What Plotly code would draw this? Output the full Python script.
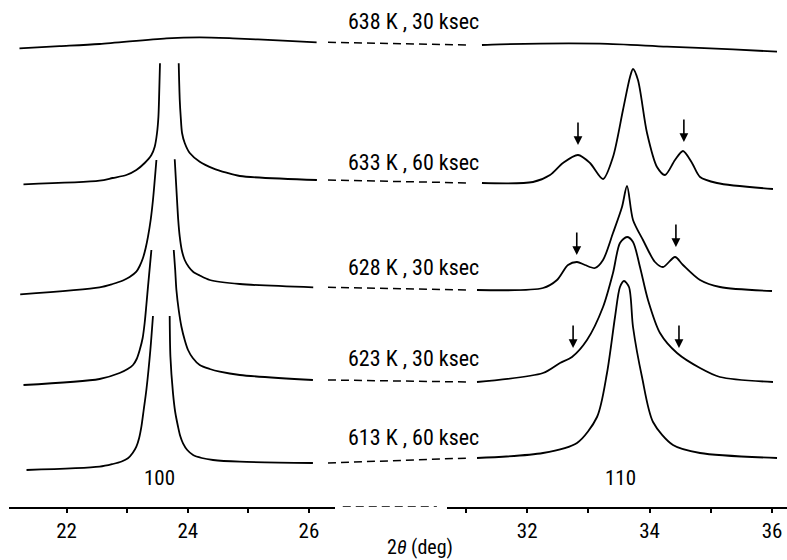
import plotly.graph_objects as go

# ---------------- data (2theta in deg, stacked intensity, arb. units) ----------------
# each pattern: left window (100 reflection, peak tips cut off) and right window (110 reflection)
t638_left = [21.223, 21.884, 22.545, 23.648, 24.198, 24.744, 25.570, 26.127]
i638_left = [458.7, 460.8, 463.0, 468.7, 469.7, 468.7, 466.3, 464.7]
t638_right = [31.261, 31.556, 33.190, 34.284, 35.363, 36.082]
i638_right = [462.0, 462.7, 463.3, 460.3, 457.7, 455.3]

t633_left = [21.289, 22.545, 22.760, 22.987, 23.152, 23.289, 23.400, 23.455, 23.493, 23.516, 23.526, 23.542, None,
             23.851, 23.868, 23.884, 23.906, 23.950, 24.033, 24.198, 24.418, 24.640, 24.860, 26.132]
i633_left = [322.7, 326.3, 329.0, 332.0, 337.0, 344.0, 352.0, 360.3, 374.0, 390.3, 407.0, 443.7, None,
             443.7, 407.0, 390.3, 374.0, 364.0, 354.0, 345.3, 338.7, 334.3, 331.0, 327.0]
t633_right = [31.261, 32.095, 32.373, 32.585, 32.830, 33.026, 33.239, 33.402, 33.565, 33.680, 33.729,
              33.810, 33.958, 34.121, 34.252, 34.415, 34.546, 34.693, 34.824, 35.101, 36.016]
i633_right = [324.0, 325.0, 332.0, 344.0, 352.0, 344.0, 328.0, 350.0, 397.0, 430.0, 438.0,
              427.0, 374.0, 340.0, 332.0, 347.0, 356.0, 344.0, 330.0, 324.0, 318.0]

t628_left = [21.235, 22.545, 22.760, 22.931, 23.041, 23.152, 23.207, 23.261, 23.306, 23.344, 23.388, 23.426, 23.483, None,
             23.785, 23.823, 23.843, 23.868, 23.901, 23.950, 24.017, 24.088, 24.198, 24.364, 24.860, 26.071]
i628_left = [212.7, 219.7, 223.0, 226.5, 230.0, 235.3, 241.0, 249.0, 259.0, 270.3, 287.0, 307.0, 347.0, None,
             347.7, 307.0, 287.0, 270.3, 257.0, 247.0, 240.0, 235.3, 231.5, 227.0, 223.0, 219.7]
t628_right = [31.180, 32.258, 32.487, 32.667, 32.814, 32.944, 33.108, 33.239, 33.402, 33.549, 33.631,
              33.729, 33.892, 34.088, 34.219, 34.415, 34.546, 34.824, 35.150, 36.000]
i628_right = [217.0, 219.0, 227.0, 242.0, 245.0, 242.0, 239.0, 247.0, 274.0, 300.0, 321.0,
              287.0, 267.0, 245.0, 240.0, 250.0, 242.0, 227.0, 220.0, 216.0]

t623_left = [21.289, 22.545, 22.876, 23.008, 23.096, 23.157, 23.207, 23.256, 23.289, 23.317, 23.344, 23.400, None,
             23.769, 23.793, 23.813, 23.851, 23.896, 23.950, 24.005, 24.083, 24.198, 24.364, 24.529, 24.860, 26.066]
i623_left = [122.0, 128.0, 134.0, 138.0, 142.0, 148.0, 157.0, 169.0, 184.0, 202.0, 220.3, 257.0, None,
             257.0, 237.0, 217.0, 197.0, 180.3, 167.0, 157.0, 149.0, 142.0, 138.0, 135.3, 132.0, 127.0]
t623_right = [31.180, 32.258, 32.536, 32.732, 32.977, 33.239, 33.402, 33.516, 33.631, 33.729,
              33.843, 33.974, 34.170, 34.448, 34.824, 35.150, 36.016]
i623_right = [125.0, 134.0, 144.0, 150.0, 167.0, 200.0, 234.0, 264.0, 270.0, 265.0,
              240.0, 207.0, 174.0, 154.0, 139.0, 130.0, 125.0]

t613_left = [21.339, 22.545, 22.765, 22.909, 23.013, 23.091, 23.152, 23.198, 23.235, 23.273, 23.317, 23.383, 23.426, None,
             23.702, 23.714, 23.757, 23.793, 23.840, 23.876, 23.922, 23.992, 24.088, 24.231, 24.418, 24.860, 26.066]
i613_left = [37.0, 40.3, 43.0, 45.5, 48.7, 54.0, 60.3, 69.0, 80.3, 97.0, 117.0, 157.0, 191.0, None,
             191.0, 150.3, 113.7, 95.0, 80.3, 71.0, 63.7, 57.0, 52.0, 49.0, 47.0, 45.3, 44.0]
t613_right = [31.180, 32.258, 32.814, 33.141, 33.304, 33.435, 33.516, 33.582, 33.663, 33.729,
              33.876, 34.056, 34.382, 34.824, 36.082]
i613_right = [49.0, 54.0, 64.0, 90.0, 134.0, 190.0, 220.0, 226.0, 220.0, 180.0,
              130.0, 85.0, 62.0, 54.0, 49.0]

pattern_labels = ["638 K , 30 ksec", "633 K , 60 ksec", "628 K , 30 ksec", "623 K , 30 ksec", "613 K , 60 ksec"]
label_levels = [486, 345, 240, 149, 70]

# side-peak arrows (2theta, intensity at arrow tip) on the right window
arrow_theta = [32.83, 34.56, 32.81, 34.43, 32.75, 34.48]
arrow_level = [362, 365, 252, 260, 159, 159]

left_ticks = [22, 23, 24, 25, 26]
left_ticktext = ["22", "", "24", "", "26"]
right_ticks = [31, 32, 33, 34, 35, 36]
right_ticktext = ["", "32", "", "34", "", "36"]

reflection_labels = ["100", "110"]
reflection_theta = [23.54, 33.52]

# ---------------- figure ----------------
FONT = "Liberation Sans Narrow, Roboto Condensed, DejaVu Sans Condensed, Arial Narrow, Roboto, sans-serif"
LW = 1.8
patterns = [
    (t638_left, i638_left, t638_right, i638_right),
    (t633_left, i633_left, t633_right, i633_right),
    (t628_left, i628_left, t628_right, i628_right),
    (t623_left, i623_left, t623_right, i623_right),
    (t613_left, i613_left, t613_right, i613_right),
]

fig = go.Figure()
LEFT_DOM = [0.0, 0.419]
RIGHT_DOM = [0.563, 1.0]
LEFT_RANGE = [21.05, 26.43]
RIGHT_RANGE = [30.69, 36.245]

shapes = []
for (tl, il, tr, ir), lab in zip(patterns, pattern_labels):
    fig.add_trace(go.Scatter(x=tl, y=il, mode="lines", xaxis="x", yaxis="y",
                             line=dict(color="black", width=LW, shape="spline", smoothing=0.8),
                             showlegend=False, hoverinfo="skip", name=lab))
    fig.add_trace(go.Scatter(x=tr, y=ir, mode="lines", xaxis="x2", yaxis="y",
                             line=dict(color="black", width=LW, shape="spline", smoothing=0.8),
                             showlegend=False, hoverinfo="skip", name=lab))
    # dashed connector across the axis break
    shapes.append(dict(type="line", xref="paper", yref="y",
                       x0=0.410, x1=0.592, y0=il[-1], y1=ir[0],
                       line=dict(color="black", width=1.5, dash="8px,5px")))

# dashed axis break
shapes.append(dict(type="line", xref="paper", yref="y", x0=0.429, x1=0.550, y0=0, y1=0,
                   line=dict(color="black", width=1.5, dash="8px,5px")))

annotations = []
for lab, lev in zip(pattern_labels, label_levels):
    annotations.append(dict(text=lab, xref="paper", yref="y", x=0.5195, y=lev, showarrow=False,
                            font=dict(family=FONT, size=22, color="black"),
                            xanchor="center", yanchor="middle"))
for th, lev in zip(arrow_theta, arrow_level):
    annotations.append(dict(text="", xref="x2", yref="y", x=th, y=lev, ax=0, ay=-24,
                            showarrow=True, arrowhead=2, arrowsize=1.1, arrowwidth=1.6,
                            arrowcolor="black"))
annotations.append(dict(text=reflection_labels[0], xref="x", yref="y", x=reflection_theta[0], y=29,
                        showarrow=False, font=dict(family=FONT, size=21, color="black")))
annotations.append(dict(text=reflection_labels[1], xref="x2", yref="y", x=reflection_theta[1], y=29,
                        showarrow=False, font=dict(family=FONT, size=21, color="black")))
annotations.append(dict(text="2<i>θ</i> (deg)", xref="paper", yref="paper", x=0.528, y=-0.079,
                        showarrow=False, font=dict(family=FONT, size=20, color="black"),
                        xanchor="center", yanchor="middle"))

axis_common = dict(showgrid=False, zeroline=False, showline=True, linecolor="black", linewidth=2,
                   ticks="outside", ticklen=4, tickwidth=1.5, tickcolor="black",
                   tickfont=dict(family=FONT, size=21, color="black"), anchor="y")
over_common = dict(showgrid=False, zeroline=False, showline=False, ticks="inside", ticklen=5,
                   tickwidth=1.5, tickcolor="black", showticklabels=False, anchor="y")

fig.update_layout(
    width=787, height=560,
    margin=dict(l=9, r=0, t=0, b=53),
    paper_bgcolor="white", plot_bgcolor="white",
    xaxis=dict(domain=LEFT_DOM, range=LEFT_RANGE, tickvals=left_ticks, ticktext=left_ticktext, **axis_common),
    xaxis2=dict(domain=RIGHT_DOM, range=RIGHT_RANGE, tickvals=right_ticks, ticktext=right_ticktext, **axis_common),
    xaxis3=dict(overlaying="x", range=LEFT_RANGE, tickvals=left_ticks, **over_common),
    xaxis4=dict(overlaying="x2", range=RIGHT_RANGE, tickvals=right_ticks, **over_common),
    yaxis=dict(range=[0, 507], visible=False, domain=[0, 1]),
    shapes=shapes, annotations=annotations,
)

fig.write_html("out.html", config={"displayModeBar": False},
               post_script="document.body.style.margin='0';document.body.style.overflow='hidden';")
